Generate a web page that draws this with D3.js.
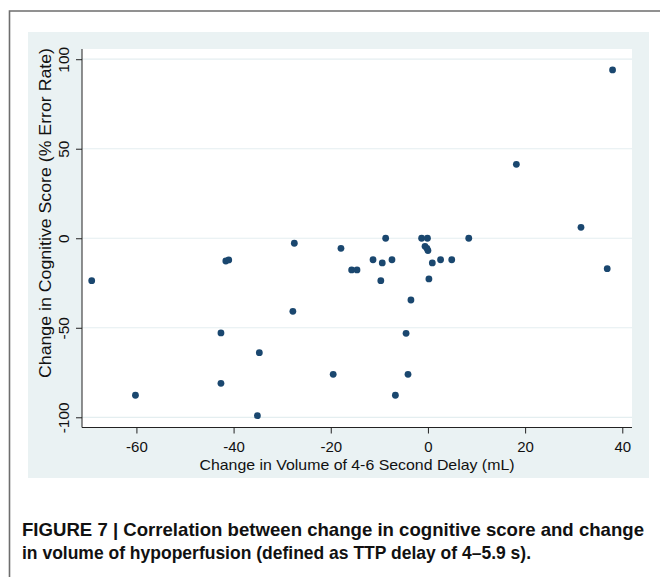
<!DOCTYPE html>
<html>
<head>
<meta charset="utf-8">
<script src="https://cdn.jsdelivr.net/npm/d3@7"></script>
<style>
  html, body { margin: 0; padding: 0; background: #fff; }
  svg { display: block; }
</style>
</head>
<body>
<svg id="chart" width="660" height="577"></svg>
<script>
// ---- data ----
const volumeChange = [
  -69.2, -60.2, -42.6, -42.6, -41.6, -41.0, -34.7, -35.1, -27.8, -27.5,
  -19.5, -17.9, -15.7, -14.6, -11.3, -9.7, -9.4, -8.7, -7.4, -6.7,
  -4.5, -4.1, -3.5, -1.3, -0.1, -0.6, -0.2, 0.0, 0.2, 0.9,
  2.6, 4.9, 8.4, 18.2, 31.5, 36.9, 38.0
];
const cognitiveChange = [
  -23.7, -87.7, -52.9, -81.0, -12.7, -12.1, -63.9, -99.1, -40.8, -2.8,
  -76.0, -5.6, -17.7, -17.7, -12.0, -23.7, -13.8, 0.0, -12.0, -87.7,
  -53.1, -76.0, -34.5, 0.0, 0.0, -4.5, -5.6, -6.9, -22.7, -13.8,
  -12.0, -12.0, 0.0, 41.3, 6.1, -17.0, 94.0
];
const xTicks = [-60, -40, -20, 0, 20, 40];
const yTicks = [-100, -50, 0, 50, 100];
const xTitle = "Change in Volume of 4-6 Second Delay (mL)";
const yTitle = "Change in Cognitive Score (% Error Rate)";
const captionLine1 = "FIGURE 7 | Correlation between change in cognitive score and change";
const captionLine2 = "in volume of hypoperfusion (defined as TTP delay of 4\u20135.9 s).";

const points = volumeChange.map((v, i) => ({ x: v, y: cognitiveChange[i] }));

// ---- layout ----
const svg = d3.select("#chart");
const plot = { left: 82, right: 632, top: 49, bottom: 427.5 };
const font = "'Liberation Sans', Arial, Helvetica, sans-serif";
const bgColor = "#eaf2f3";
const navy = "#1a476f";
const fmt = d => String(d); // plain hyphen-minus like the reference

const x = d3.scaleLinear().domain([-71.2, 42.0]).range([plot.left, plot.right]);
const y = d3.scaleLinear().domain([-105.7, 105.7]).range([plot.bottom, plot.top]);

// white page
svg.append("rect").attr("width", 660).attr("height", 577).attr("fill", "#fff");

// outer frame (left + top)
svg.append("path")
  .attr("d", "M9.5,577 L9.5,11 L660,11")
  .attr("fill", "none").attr("stroke", "#6e6e6e").attr("stroke-width", 1.6);

// graph region background
svg.append("rect")
  .attr("x", 28).attr("y", 32).attr("width", 621).attr("height", 446)
  .attr("fill", bgColor);

// plot region
svg.append("rect")
  .attr("x", plot.left).attr("y", plot.top)
  .attr("width", plot.right - plot.left).attr("height", plot.bottom - plot.top)
  .attr("fill", "#fff");

// gridlines
svg.append("g").selectAll("line").data(yTicks).join("line")
  .attr("x1", plot.left).attr("x2", plot.right)
  .attr("y1", d => y(d)).attr("y2", d => y(d))
  .attr("stroke", "#e4eef0").attr("stroke-width", 1.2);

// y axis
const yAxis = svg.append("g")
  .attr("transform", `translate(${plot.left},0)`)
  .call(d3.axisLeft(y).tickValues(yTicks).tickSize(6).tickSizeOuter(0).tickFormat(fmt));
yAxis.select(".domain").attr("stroke", "#222").attr("d", `M0,${plot.top}V${plot.bottom}`);
yAxis.selectAll(".tick line").attr("stroke", "#222");
yAxis.selectAll(".tick text")
  .attr("x", null).attr("dy", null)
  .attr("transform", "translate(-13.5,0) rotate(-90)")
  .attr("text-anchor", "middle")
  .attr("font-family", font).attr("font-size", 15.5).attr("fill", "#111");

// x axis
const xAxis = svg.append("g")
  .attr("transform", `translate(0,${plot.bottom})`)
  .call(d3.axisBottom(x).tickValues(xTicks).tickSize(6).tickSizeOuter(0).tickFormat(fmt));
xAxis.select(".domain").attr("stroke", "#222").attr("d", `M${plot.left},0H${plot.right}`);
xAxis.selectAll(".tick line").attr("stroke", "#222");
xAxis.selectAll(".tick text")
  .attr("y", 24).attr("dy", null)
  .attr("font-family", font).attr("font-size", 15).attr("fill", "#111");

// axis titles
svg.append("text")
  .attr("x", 357).attr("y", 469.5)
  .attr("text-anchor", "middle")
  .attr("font-family", font).attr("font-size", 15).attr("fill", "#111")
  .attr("textLength", 315).attr("lengthAdjust", "spacingAndGlyphs")
  .text(xTitle);

svg.append("text")
  .attr("transform", "translate(51,213) rotate(-90)")
  .attr("text-anchor", "middle")
  .attr("font-family", font).attr("font-size", 16.5).attr("fill", "#111")
  .attr("textLength", 330).attr("lengthAdjust", "spacingAndGlyphs")
  .text(yTitle);

// points
svg.append("g").selectAll("circle").data(points).join("circle")
  .attr("cx", d => x(d.x)).attr("cy", d => y(d.y))
  .attr("r", 3.4).attr("fill", navy);

// caption
const capFont = "'Liberation Sans Narrow', 'Arial Narrow', 'Liberation Sans', Arial, sans-serif";
svg.append("text")
  .attr("x", 22).attr("y", 536)
  .attr("font-family", capFont).attr("font-weight", "bold").attr("font-size", 18.5).attr("fill", "#111")
  .attr("textLength", 622).attr("lengthAdjust", "spacingAndGlyphs")
  .text(captionLine1);
svg.append("text")
  .attr("x", 22).attr("y", 559)
  .attr("font-family", capFont).attr("font-weight", "bold").attr("font-size", 18.5).attr("fill", "#111")
  .attr("textLength", 509).attr("lengthAdjust", "spacingAndGlyphs")
  .text(captionLine2);
</script>
</body>
</html>
